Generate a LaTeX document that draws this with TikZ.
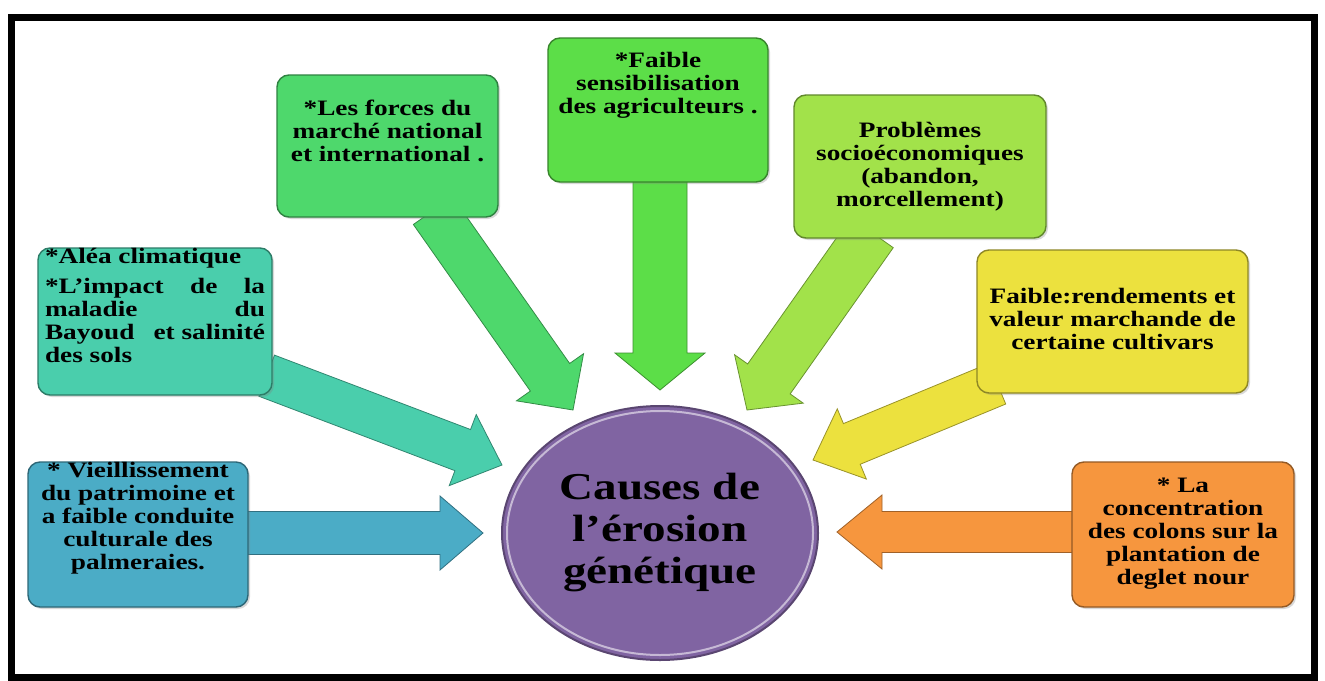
\documentclass[tikz,border=0pt]{standalone}
\usepackage{fontspec}
\setmainfont{Liberation Serif}[FakeStretch=1.24]
\usepackage{tikz}
\usetikzlibrary{calc,backgrounds,shadows,shapes.geometric}

\definecolor{vieilcol}{RGB}{75,172,198}
\definecolor{aleacol}{RGB}{74,206,172}
\definecolor{forcecol}{RGB}{78,216,108}
\definecolor{sensicol}{RGB}{92,222,72}
\definecolor{probcol}{RGB}{162,226,74}
\definecolor{rendcol}{RGB}{236,225,62}
\definecolor{colocol}{RGB}{246,150,62}
\definecolor{causecol}{RGB}{128,100,162}

\tikzset{
  causebox/.style={draw=#1!60!black, fill=#1, line width=1.4pt, rounded corners=12pt,
    inner sep=0pt, text=black, font=\bfseries\fontsize{22}{23}\selectfont,
    drop shadow={opacity=0.3, shadow xshift=2pt, shadow yshift=-2pt}},
  blockarrow/.style={draw=#1!65!black, fill=#1, line width=0.8pt},
}

% box text: width, height, top gap, text
\newcommand{\cbox}[4]{\parbox[c][#2][t]{#1}{\centering\vspace*{#3}#4}}

% block arrow: start, tip, colour, half shaft, half head, head length
\newcommand{\bigarrow}[6]{%
  \path (#1) coordinate (arr-s) (#2) coordinate (arr-t);
  \coordinate (arr-h) at ($(arr-t)!#6!(arr-s)$);
  \draw[blockarrow=#3] ($(arr-s)!#4!90:(arr-t)$) -- ($(arr-h)!#4!90:(arr-t)$)
    -- ($(arr-h)!#5!90:(arr-t)$) -- (arr-t) -- ($(arr-h)!#5!-90:(arr-t)$)
    -- ($(arr-h)!#4!-90:(arr-t)$) -- ($(arr-s)!#4!-90:(arr-t)$) -- cycle;
}

\begin{document}
\begin{tikzpicture}[x=1pt,y=-1pt]
\useasboundingbox (0,0) rectangle (1325,680);

\node[causebox=vieilcol] at (138,534.5) (vieil) {\cbox{220pt}{145pt}{0pt}{* Vieillissement\\ du patrimoine et\\ a faible conduite\\ culturale des\\ palmeraies.}};
\node[causebox=aleacol] at (155,321.5) (alea) {\cbox{234pt}{147pt}{0pt}{\parbox[t]{220pt}{\raggedright *Aléa climatique\\[7pt] *L’impact\hfill de\hfill la\\ maladie\hfill du\\ Bayoud\hfill et salinité\\ des sols}}};
\node[causebox=forcecol] at (387.5,146) (forces) {\cbox{221pt}{142pt}{25pt}{*Les forces du\\ marché national\\ et international .}};
\node[causebox=sensicol] at (658,110) (sensib) {\cbox{220pt}{144pt}{14pt}{*Faible\\ sensibilisation\\ des agriculteurs .}};
\node[causebox=probcol] at (920,166.5) (probl) {\cbox{252pt}{143pt}{27pt}{Problèmes\\ socioéconomiques\\ (abandon,\\ morcellement)}};
\node[causebox=rendcol] at (1112.5,321.5) (rend) {\cbox{271pt}{143pt}{38pt}{Faible:rendements et\\ valeur marchande de\\ certaine cultivars}};
\node[causebox=colocol] at (1183,534.5) (colons) {\cbox{222pt}{145pt}{16pt}{* La\\ concentration\\ des colons sur la\\ plantation de\\ deglet nour}};

\node[ellipse, draw=causecol!70!black, fill=causecol, line width=2pt, minimum width=316pt,
  minimum height=254pt, inner sep=0pt, align=center, text=black,
  font=\bfseries\fontsize{38}{42}\selectfont] at (660,533) (cause) {Causes de\\ l’érosion\\ génétique};
\draw[causecol!45!white, line width=2pt] (cause.center) ellipse [x radius=153, y radius=122];

\coordinate (t-vieil) at (483,533);
\coordinate (t-alea) at (502,465);
\coordinate (t-forces) at (573,410);
\coordinate (t-sensib) at (660,390);
\coordinate (t-probl) at (747,410);
\coordinate (t-rend) at (813,460);
\coordinate (t-colons) at (837,532);

\begin{pgfonlayer}{background}
\fill[white] (0,0) rectangle (1325,680);
\bigarrow{$(vieil.east)+(-8,-1.5)$}{t-vieil}{vieilcol}{21.5pt}{37pt}{43pt}
\bigarrow{$(alea.south east)+(-6,-20)$}{t-alea}{aleacol}{22pt}{38pt}{42pt}
\bigarrow{$(forces.south)+(45.5,-7)$}{t-forces}{forcecol}{24pt}{41pt}{40pt}
\bigarrow{$(sensib.south)+(2,-7)$}{t-sensib}{sensicol}{27pt}{45pt}{37pt}
\bigarrow{$(probl.south)+(-48,-6)$}{t-probl}{probcol}{26pt}{42pt}{38pt}
\bigarrow{$(rend.south west)+(21,-10)$}{t-rend}{rendcol}{22pt}{38pt}{42pt}
\bigarrow{$(colons.west)+(8,-2.5)$}{t-colons}{colocol}{20.5pt}{37pt}{45pt}
\end{pgfonlayer}

\draw[line width=7pt] (11,17) rectangle (1314,677);
\end{tikzpicture}
\end{document}
